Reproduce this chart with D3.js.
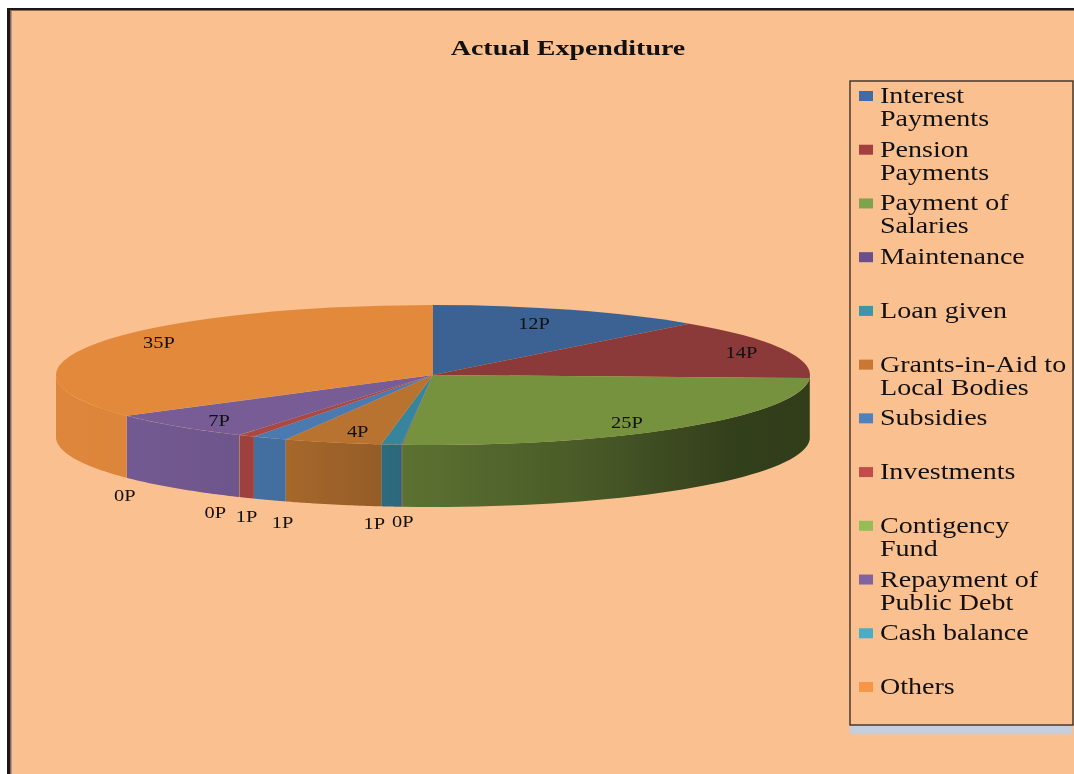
<!DOCTYPE html>
<html>
<head>
<meta charset="utf-8">
<script src="https://cdn.jsdelivr.net/npm/d3@7"></script>
<style>
html, body { margin: 0; padding: 0; background: #fff; overflow: hidden; }
svg { display: block; }
text { font-family: "Liberation Serif", serif; fill: #111; filter: blur(0.3px); }
</style>
</head>
<body>
<svg width="1074" height="774"></svg>
<script>
// data, label text is what the chart prints
var categories = ['Interest\nPayments', 'Pension\nPayments', 'Payment of\nSalaries', 'Maintenance', 'Loan given',
    'Grants-in-Aid to\nLocal Bodies', 'Subsidies', 'Investments', 'Contigency\nFund', 'Repayment of\nPublic Debt',
    'Cash balance', 'Others'];
var values = [11.9, 13.8, 25.6, 0.04, 0.85, 4.2, 1.49, 0.7, 0.02, 6.48, 0.02, 34.9];
var valueLabels = ['12P', '14P', '25P', '0P', '1P', '4P', '1P', '1P', '0P', '7P', '0P', '35P'];
var legendColors = ['#3f6ca6', '#a33f3f', '#7fa34b', '#6a4f8c', '#3e93ad', '#c87832',
    '#4f81bd', '#c24b4b', '#96bc57', '#8064a2', '#4bacc6', '#f79646'];
var sliceColors = ['#3b6293', '#8c3a39', '#76923f', '#5f4b80', '#37859c', '#b97330',
    '#4a7ab0', '#ab4744', '#8aa84a', '#775c96', '#45a0bb', '#e3893c'];

var width = 1074, height = 774;
var cx = 433, cy = 375, rx = 377, ry = 70, depth = 62;

var svg = d3.select('svg');
var defs = svg.append('defs');

// page background and the black frame on the top and left
svg.append('rect').attr('x', 8).attr('y', 8).attr('width', width).attr('height', height).attr('fill', '#fbc08f');
svg.append('rect').attr('x', 7).attr('y', 8).attr('width', width).attr('height', 2.5).attr('fill', '#1c1715');
svg.append('rect').attr('x', 7).attr('y', 8).attr('width', 3).attr('height', height).attr('fill', '#1c1715');
svg.append('rect').attr('x', 10).attr('y', 10.5).attr('width', 1.5).attr('height', height).attr('fill', '#7a6a60');

svg.append('text')
    .attr('transform', 'translate(568,55) scale(1.33,1)')
    .attr('text-anchor', 'middle')
    .attr('font-size', 21).attr('font-weight', 'bold')
    .text('Actual Expenditure');

// pie angles, clockwise from the top like the original
var pie = d3.pie().sort(null).value(d => d);
var arcs = pie(values);

var ex = d3.scaleLinear().domain([-1, 1]).range([cx - rx, cx + rx]);
var ey = d3.scaleLinear().domain([-1, 1]).range([cy - ry, cy + ry]);
var px = a => ex(Math.sin(a));
var py = a => ey(-Math.cos(a));

// wall brightness, left is lit and right falls into shadow
var shade = d3.scaleLinear()
    .domain([cx - rx, cx - 300, cx - 147, cx - 30, cx + 170, cx + 300, cx + rx])
    .range([0.98, 0.97, 0.9, 0.78, 0.6, 0.43, 0.42]);

// only the part of a slice between 90 and 270 degrees shows a wall
var walls = arcs.map((d, i) => ({
    i: i,
    a0: Math.max(d.startAngle, Math.PI / 2),
    a1: Math.min(d.endAngle, Math.PI * 1.5)
})).filter(d => d.a1 > d.a0);

walls.forEach(w => {
    var x0 = px(w.a0), x1 = px(w.a1);
    var grad = defs.append('linearGradient')
        .attr('id', 'wall' + w.i)
        .attr('gradientUnits', 'userSpaceOnUse')
        .attr('x1', x0).attr('x2', x1).attr('y1', 0).attr('y2', 0);
    d3.range(0, 1.01, 0.1).forEach(t => {
        var c = d3.rgb(sliceColors[w.i]);
        var k = shade(x0 + (x1 - x0) * t);
        grad.append('stop')
            .attr('offset', t)
            .attr('stop-color', d3.rgb(c.r * k, c.g * k, c.b * k).formatHex());
    });
});

var wallLine = d3.line().x(d => d[0]).y(d => d[1]);
svg.append('g').selectAll('path')
    .data(walls)
    .enter().append('path')
    .attr('d', w => {
        var steps = d3.range(0, 1.001, 1 / 40).map(t => w.a0 + (w.a1 - w.a0) * t);
        var top = steps.map(a => [px(a), py(a)]);
        var bottom = steps.slice().reverse().map(a => [px(a), py(a) + depth]);
        return wallLine(top.concat(bottom)) + 'Z';
    })
    .attr('fill', w => 'url(#wall' + w.i + ')');

// top face: a flat d3 arc squashed into the ellipse
var arc = d3.arc().innerRadius(0).outerRadius(rx);
svg.append('g')
    .attr('transform', 'translate(' + [cx, cy] + ') scale(1,' + ry / rx + ')')
    .selectAll('path')
    .data(arcs)
    .enter().append('path')
    .attr('d', arc)
    .attr('fill', (d, i) => sliceColors[i]);

// data labels: inside the top face, or under the wall for the small slices.
// the original ones were placed by hand a bit, so each gets a small nudge
var outside = [false, false, false, true, true, false, true, true, true, false, true, false];
var nudgeX = [-16, 12, -18, 1, -17, 10, 13, 0, -24, 3, -2, 11];
var nudgeY = [3, 0, 2, 2, 4, -1, 10, 6, 3, 1, 5, -6];
var labelPos = arcs.map((d, i) => {
    var a = (d.startAngle + d.endAngle) / 2;
    if (outside[i]) return [px(a) + nudgeX[i], py(a) + depth + 12 + nudgeY[i]];
    return [cx + (px(a) - cx) * 0.85 + nudgeX[i], cy + (py(a) - cy) * 0.85 + nudgeY[i]];
});

svg.append('g').selectAll('text')
    .data(valueLabels)
    .enter().append('text')
    .attr('transform', (d, i) => 'translate(' + labelPos[i] + ') scale(1.2,1)')
    .attr('dy', '0.35em')
    .attr('text-anchor', 'middle')
    .attr('font-size', 17)
    .text(d => d);

// legend box with its blue shadow underneath
defs.append('filter').attr('id', 'soft')
    .attr('x', '-5%').attr('y', '-50%').attr('width', '110%').attr('height', '200%')
    .append('feGaussianBlur').attr('stdDeviation', 1.5);
svg.append('rect')
    .attr('x', 850).attr('y', 724).attr('width', 222).attr('height', 10)
    .attr('fill', '#c3cfe2').attr('filter', 'url(#soft)');
svg.append('rect')
    .attr('x', 850).attr('y', 81).attr('width', 223).attr('height', 644)
    .attr('fill', '#fbc08f').attr('stroke', '#2a2522').attr('stroke-width', 1.3);

var legendY = d3.scalePoint().domain(d3.range(categories.length)).range([96, 687]);
var legend = svg.append('g').selectAll('g')
    .data(categories)
    .enter().append('g')
    .attr('transform', (d, i) => 'translate(' + [859, legendY(i)] + ')');

legend.append('rect')
    .attr('y', -5).attr('width', 14).attr('height', 10)
    .attr('fill', (d, i) => legendColors[i]);

legend.append('text')
    .attr('transform', 'translate(21,0) scale(1.22,1)')
    .attr('font-size', 23)
    .selectAll('tspan')
    .data(d => d.split('\n'))
    .enter().append('tspan')
    .attr('x', 0)
    .attr('y', (d, i) => 7 + i * 23)
    .text(d => d);
</script>
</body>
</html>
